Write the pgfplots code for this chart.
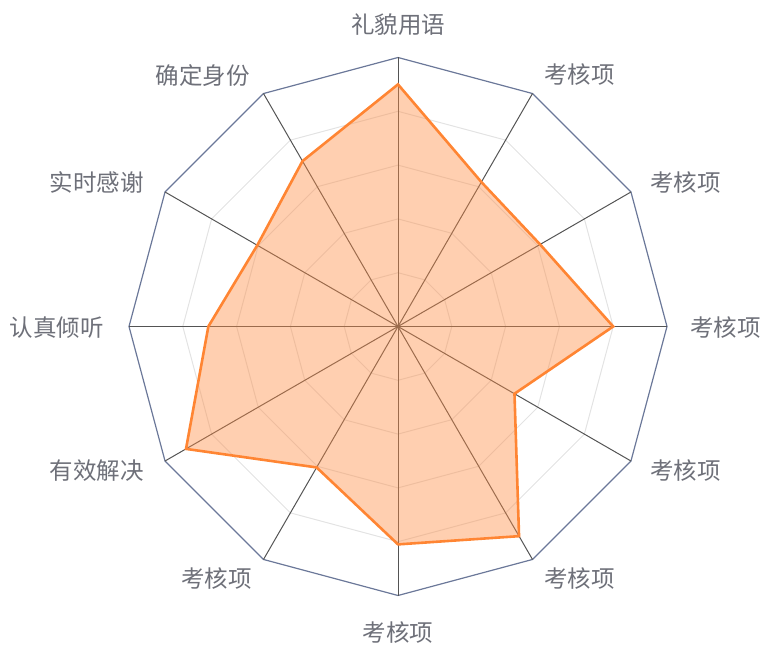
\documentclass[border=0pt]{standalone}
\usepackage{pgfplots}
\pgfplotsset{compat=1.18}
\usepgfplotslibrary{polar}
\usepackage{fontspec}
\newfontfamily\cjk{Noto Sans CJK SC}
\definecolor{txt}{HTML}{6E7079}
\definecolor{outerc}{HTML}{6B7899}
\definecolor{spoke}{HTML}{545454}
\definecolor{ring}{HTML}{E3E3E3}
\definecolor{ser}{HTML}{FF8533}
\definecolor{serfill}{HTML}{FF8C42}
\begin{document}
\begin{tikzpicture}
\begin{polaraxis}[hide axis, clip=false, scale only axis, width=538bp, height=538bp,
  xmin=0, xmax=360, ymin=0, ymax=100]
\coordinate (O) at (axis cs:0,0);
% rings
\addplot[ring, line width=1bp, mark=none] coordinates {(90,20)(60,20)(30,20)(0,20)(-30,20)(-60,20)(-90,20)(-120,20)(-150,20)(180,20)(150,20)(120,20)} -- cycle;
\addplot[ring, line width=1bp, mark=none] coordinates {(90,40)(60,40)(30,40)(0,40)(-30,40)(-60,40)(-90,40)(-120,40)(-150,40)(180,40)(150,40)(120,40)} -- cycle;
\addplot[ring, line width=1bp, mark=none] coordinates {(90,60)(60,60)(30,60)(0,60)(-30,60)(-60,60)(-90,60)(-120,60)(-150,60)(180,60)(150,60)(120,60)} -- cycle;
\addplot[ring, line width=1bp, mark=none] coordinates {(90,80)(60,80)(30,80)(0,80)(-30,80)(-60,80)(-90,80)(-120,80)(-150,80)(180,80)(150,80)(120,80)} -- cycle;
\addplot[outerc, line width=1.2bp, mark=none] coordinates {(90,100)(60,100)(30,100)(0,100)(-30,100)(-60,100)(-90,100)(-120,100)(-150,100)(180,100)(150,100)(120,100)} -- cycle;
% spokes
\addplot[spoke, line width=1bp, mark=none] coordinates {(90,0)(90,100)};
\addplot[spoke, line width=1bp, mark=none] coordinates {(60,0)(60,100)};
\addplot[spoke, line width=1bp, mark=none] coordinates {(30,0)(30,100)};
\addplot[spoke, line width=1bp, mark=none] coordinates {(0,0)(0,100)};
\addplot[spoke, line width=1bp, mark=none] coordinates {(-30,0)(-30,100)};
\addplot[spoke, line width=1bp, mark=none] coordinates {(-60,0)(-60,100)};
\addplot[spoke, line width=1bp, mark=none] coordinates {(-90,0)(-90,100)};
\addplot[spoke, line width=1bp, mark=none] coordinates {(-120,0)(-120,100)};
\addplot[spoke, line width=1bp, mark=none] coordinates {(-150,0)(-150,100)};
\addplot[spoke, line width=1bp, mark=none] coordinates {(180,0)(180,100)};
\addplot[spoke, line width=1bp, mark=none] coordinates {(150,0)(150,100)};
\addplot[spoke, line width=1bp, mark=none] coordinates {(120,0)(120,100)};
% data
\addplot[draw=none, fill=serfill, fill opacity=0.42, mark=none] coordinates {(90,90)(60,62)(30,61)(0,80)(-30,50)(-60,90)(-90,81)(-120,60.5)(-150,91)(180,70.5)(150,60.4)(120,71)} -- cycle;
\addplot[ser, line width=2.6bp, line join=miter, mark=none] coordinates {(90,90)(60,62)(30,61)(0,80)(-30,50)(-60,90)(-90,81)(-120,60.5)(-150,91)(180,70.5)(150,60.4)(120,71)} -- cycle;
\end{polaraxis}
\begin{scope}[every node/.style={text=txt, inner sep=0pt, font=\cjk\fontsize{23.5bp}{28bp}\selectfont}]
\node[anchor=center, xshift=0bp, yshift=302bp] at (O) {礼貌用语};
\node[anchor=west, xshift=146bp, yshift=252bp] at (O) {考核项};
\node[anchor=west, xshift=252bp, yshift=144bp] at (O) {考核项};
\node[anchor=west, xshift=292bp, yshift=-1bp] at (O) {考核项};
\node[anchor=west, xshift=252bp, yshift=-144bp] at (O) {考核项};
\node[anchor=west, xshift=146bp, yshift=-252bp] at (O) {考核项};
\node[anchor=center, xshift=0bp, yshift=-306bp] at (O) {考核项};
\node[anchor=east, xshift=-146bp, yshift=-252bp] at (O) {考核项};
\node[anchor=east, xshift=-254bp, yshift=-144bp] at (O) {有效解决};
\node[anchor=east, xshift=-294bp, yshift=-1bp] at (O) {认真倾听};
\node[anchor=east, xshift=-254bp, yshift=144bp] at (O) {实时感谢};
\node[anchor=east, xshift=-148bp, yshift=251bp] at (O) {确定身份};
\end{scope}
\pgfresetboundingbox
\path[use as bounding box] (O) ++(-398bp,326.5bp) rectangle ++(773bp,-655bp);
\end{tikzpicture}
\end{document}
